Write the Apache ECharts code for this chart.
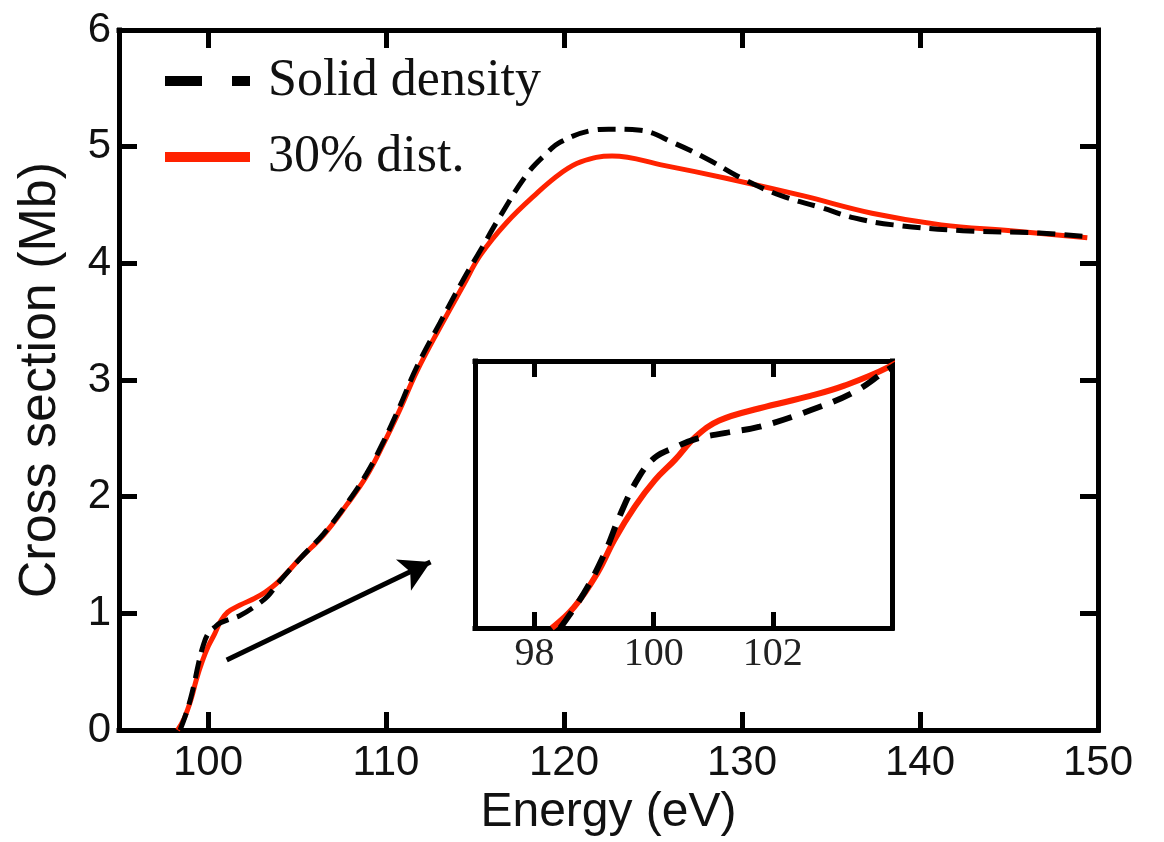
<!DOCTYPE html>
<html>
<head>
<meta charset="utf-8">
<script src="https://cdn.jsdelivr.net/npm/echarts@6/dist/echarts.min.js"></script>
<style>
html,body{margin:0;padding:0;background:#fff;}
#chart{width:1164px;height:842px;}
</style>
</head>
<body>
<div id="chart"></div>
<script>
// ---- data ----
const solidEnergy = [98.43, 98.83, 99.17, 99.45, 99.74, 100.02, 100.36, 100.7, 101.21, 101.78, 102.63, 103.37, 103.94, 105.17, 106.48, 107.79, 108.92, 109.85, 110.79, 111.72, 113.03, 114.34, 115.3, 116.4, 117.9, 119.0, 119.8, 121.6, 122.5, 124.3, 126.2, 128.1, 130.1, 132.2, 134.4, 136.3, 138.5, 142.4, 146.7, 149.3];
const solidValue  = [0.0, 0.17, 0.36, 0.56, 0.73, 0.83, 0.88, 0.92, 0.95, 0.98, 1.06, 1.15, 1.26, 1.47, 1.68, 1.94, 2.2, 2.47, 2.78, 3.11, 3.49, 3.86, 4.11, 4.40, 4.76, 4.94, 5.04, 5.14, 5.15, 5.14, 5.03, 4.89, 4.72, 4.58, 4.48, 4.39, 4.33, 4.28, 4.26, 4.23];
const distEnergy  = [98.29, 98.66, 99.06, 99.34, 99.68, 100.02, 100.36, 100.7, 101.1, 101.78, 102.63, 103.2, 103.94, 105.17, 106.48, 107.79, 108.92, 109.85, 110.79, 111.72, 113.03, 114.34, 115.3, 116.78, 118.47, 119.8, 120.94, 122.7, 125.6, 129.1, 133.4, 137.3, 141.2, 145.1, 149.4];
const distValue   = [0.0, 0.10, 0.27, 0.43, 0.59, 0.72, 0.82, 0.93, 1.01, 1.07, 1.13, 1.18, 1.27, 1.47, 1.67, 1.93, 2.18, 2.45, 2.75, 3.07, 3.45, 3.81, 4.07, 4.35, 4.60, 4.77, 4.87, 4.92, 4.84, 4.73, 4.58, 4.43, 4.33, 4.28, 4.22];
const seriesNames = ['Solid density', '30% dist.'];
const mainXTicks  = [100, 110, 120, 130, 140, 150];
const insetXTicks = [98, 100, 102];
const arrowFrom = [101.05, 0.60];
const arrowTo   = [112.5, 1.44];

const solidData = solidEnergy.map((e, i) => [e, solidValue[i]]);
const distData  = distEnergy.map((e, i) => [e, distValue[i]]);

const BLACK = '#000000';
const RED = '#ff2200';
const SANS = 'Liberation Sans';
const SERIF = 'Liberation Serif';

const chart = echarts.init(document.getElementById('chart'), null, {renderer: 'canvas'});

function frameAxis(gridIndex, position, extra) {
  return Object.assign({
    type: 'value',
    gridIndex: gridIndex,
    position: position,
    axisLine: {show: true, onZero: false, lineStyle: {color: BLACK, width: 5, cap: 'square'}},
    axisTick: {show: false},
    axisLabel: {show: false},
    splitLine: {show: false}
  }, extra);
}

const hiddenSymbol = {opacity: 0, borderWidth: 0};

const option = {
  animation: false,
  backgroundColor: '#ffffff',
  grid: [
    {left: 119, top: 30, right: 66, bottom: 110},
    {left: 475, top: 361, width: 417, height: 267, backgroundColor: '#fff', show: true, borderWidth: 0}
  ],
  legend: {
    data: [
      {name: seriesNames[0], itemStyle: hiddenSymbol, lineStyle: {width: 10, type: [37, 30], cap: 'butt', color: BLACK}},
      {name: seriesNames[1], itemStyle: hiddenSymbol, lineStyle: {width: 10, type: 'solid', color: RED}}
    ],
    orient: 'vertical',
    left: 155,
    top: 50,
    itemWidth: 85,
    itemHeight: 20,
    itemGap: 24,
    textStyle: {fontFamily: SERIF, fontSize: 52, color: '#111', padding: [0, 0, 0, 13], lineHeight: 52}
  },
  xAxis: [
    frameAxis(0, 'bottom', {
      min: 95, max: 150,
      name: 'Energy (eV)', nameLocation: 'middle', nameGap: 58,
      nameTextStyle: {fontFamily: SANS, fontSize: 48, color: '#111'},
      axisTick: {show: true, inside: true, length: 18, customValues: mainXTicks, lineStyle: {color: BLACK, width: 5}},
      axisLabel: {show: true, customValues: mainXTicks, fontFamily: SANS, fontSize: 42, color: '#111', margin: 12}
    }),
    frameAxis(0, 'top', {
      min: 95, max: 150,
      axisTick: {show: true, inside: true, length: 18, customValues: mainXTicks.slice(0, 5), lineStyle: {color: BLACK, width: 5}}
    }),
    frameAxis(1, 'bottom', {
      min: 97, max: 104,
      axisTick: {show: true, inside: true, length: 16, customValues: insetXTicks, lineStyle: {color: BLACK, width: 5}},
      axisLabel: {show: true, customValues: insetXTicks, fontFamily: SERIF, fontSize: 40, color: '#222', margin: 6}
    }),
    frameAxis(1, 'top', {
      min: 97, max: 104,
      axisTick: {show: true, inside: true, length: 16, customValues: insetXTicks, lineStyle: {color: BLACK, width: 5}}
    })
  ],
  yAxis: [
    frameAxis(0, 'left', {
      min: 0, max: 6, interval: 1,
      name: 'Cross section (Mb)', nameLocation: 'middle', nameGap: 52,
      nameTextStyle: {fontFamily: SANS, fontSize: 52, color: '#111'},
      axisTick: {show: true, inside: true, length: 18, lineStyle: {color: BLACK, width: 5}},
      axisLabel: {show: true, fontFamily: SANS, fontSize: 42, color: '#111', margin: 8}
    }),
    frameAxis(0, 'right', {
      min: 0, max: 6, interval: 1,
      axisTick: {show: true, inside: true, length: 18, lineStyle: {color: BLACK, width: 5}}
    }),
    frameAxis(1, 'left', {min: 0, max: 1.3}),
    frameAxis(1, 'right', {min: 0, max: 1.3})
  ],
  series: [
    {
      name: seriesNames[1], type: 'line', xAxisIndex: 0, yAxisIndex: 0,
      data: distData, symbol: 'none', smooth: 0.4, z: 2, clip: true,
      lineStyle: {color: RED, width: 5}, itemStyle: {color: RED}
    },
    {
      name: seriesNames[0], type: 'line', xAxisIndex: 0, yAxisIndex: 0,
      data: solidData, symbol: 'none', smooth: 0.4, z: 3, clip: true,
      lineStyle: {color: BLACK, width: 5, type: [18, 9], cap: 'butt'}, itemStyle: {color: BLACK},
      markLine: {
        silent: true, animation: false,
        symbol: ['none', 'arrow'], symbolSize: [26, 30],
        label: {show: false},
        lineStyle: {color: BLACK, width: 5, type: 'solid'},
        data: [[{coord: arrowFrom}, {coord: arrowTo}]]
      }
    },
    {
      name: seriesNames[1], type: 'line', xAxisIndex: 2, yAxisIndex: 2,
      data: distData, symbol: 'none', smooth: 0.4, z: 2, clip: true,
      lineStyle: {color: RED, width: 6}, itemStyle: {color: RED}
    },
    {
      name: seriesNames[0], type: 'line', xAxisIndex: 2, yAxisIndex: 2,
      data: solidData, symbol: 'none', smooth: 0.4, z: 3, clip: true,
      lineStyle: {color: BLACK, width: 6, type: [20, 12], cap: 'butt'}, itemStyle: {color: BLACK}
    }
  ]
};
chart.setOption(option);
</script>
</body>
</html>
